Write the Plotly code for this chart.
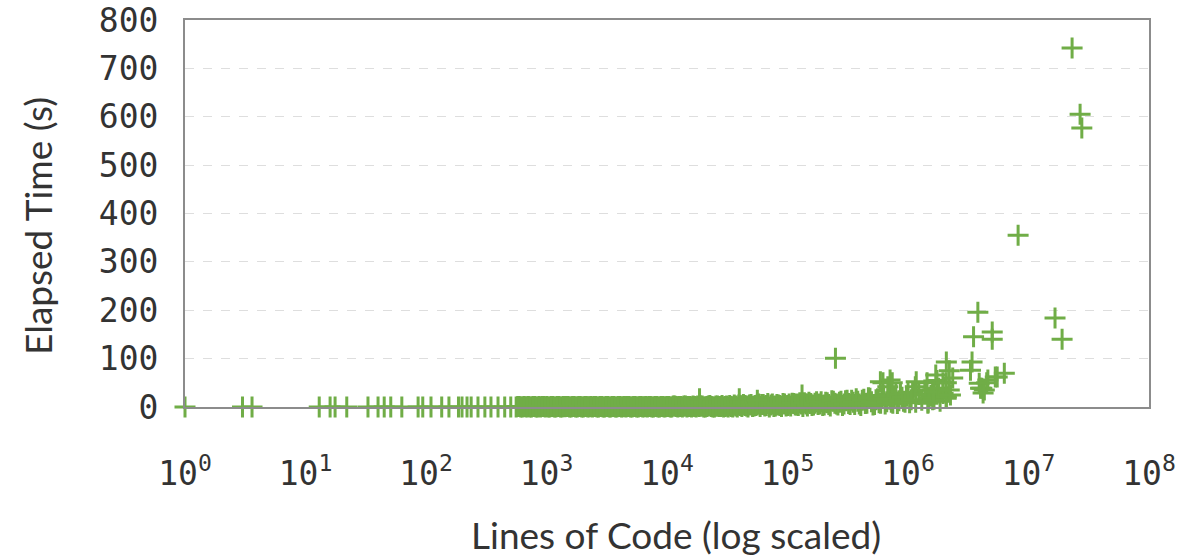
import plotly.graph_objects as go

# ---- data ----
# sparse small projects (all ~0 s)
small_loc = [1, 3, 3.6, 13, 16, 17.6, 22, 33, 40, 45, 51, 63,
             86, 94, 110, 135, 155, 186, 199, 219, 237, 270, 308, 346, 396, 450, 505]
small_time = [0] * len(small_loc)

# dense band of projects
band_loc = [560, 594, 630, 668, 708, 750, 795, 843, 893, 947,
            1004, 1064, 1128, 1196, 1268, 1344, 1424, 1510, 1600, 1696,
            1798, 1906, 2020, 2141, 2270, 2406, 2550, 2703, 2866, 3038,
            3220, 3413, 3618, 3835, 4065, 4309, 4567, 4841, 5132, 5440,
            5766, 6112, 6479, 6868, 7280, 7716, 8179, 8670, 9190, 9742,
            10330, 10950, 11600, 12300, 13040, 13820, 14650, 15530, 16460, 17450,
            18490, 19600, 20780, 22030, 23350, 24750, 26230, 27810, 29480, 31240,
            33120, 35110, 37210, 39450, 41810, 44320, 46980, 49800, 52790, 55950,
            59310, 62870, 66640, 70640, 74880, 79370, 84130, 89180, 94530, 100200,
            106200, 112600, 119300, 126500, 134100, 142100, 150700, 159700, 169300, 179400,
            190200, 201600, 213700, 226500, 240100, 254600, 269800, 286000, 303200, 321400,
            340600, 361100, 382800, 405700, 430100, 455900, 483200, 512200, 542900, 575500,
            610000, 646600, 685400, 726600, 770200, 816400, 865400, 917300, 972300, 1031000,
            1092000, 1158000, 1228000, 1301000, 1379000, 1462000, 1550000, 1643000, 1741000, 1846000,
            1956000, 2074000]
band_time = [0, 1, 0, 0.5, 1, 0, 1, 0, 0, 1,
             1, 0, 1, 0, 1, 0, 0.5, 1, 0, 1,
             0, 1, 0, 1, 0.5, 0, 1, 0, 1, 0,
             1, 0, 1, 0, 1, 0.5, 0, 1, 0, 1,
             0, 1, 0.5, 0, 1, 0, 1, 0, 1, 0.5,
             1, 0, 2, 0, 1, 2, 0, 1, 2, 0,
             1, 2, 0, 2, 1, 0, 2, 1, 0, 2,
             3, 0, 2, 4, 1, 3, 0, 5, 2, 4,
             1, 5, 3, 0, 6, 2, 4, 1, 6, 3,
             2, 7, 4, 9, 1, 6, 10, 3, 8, 5,
             11, 4, 9, 2, 12, 6, 10, 3, 13, 7,
             14, 5, 12, 3, 16, 8, 18, 4, 15, 9,
             20, 6, 24, 10, 18, 7, 28, 12, 22, 9,
             30, 10, 26, 14, 35, 8, 24, 16, 32, 12,
             28, 18]

band2_loc = [577, 612, 649, 688, 729, 772, 819, 868, 920, 975,
             1034, 1096, 1161, 1231, 1305, 1383, 1466, 1554, 1647, 1746,
             1851, 1962, 2080, 2204, 2337, 2477, 2625, 2783, 2950, 3127,
             3315, 3514, 3725, 3948, 4185, 4436, 4702, 4984, 5284, 5601,
             5937, 6293, 6670, 7071, 7495, 7944, 8421, 8926, 9462, 10030,
             10640, 11270, 11950, 12660, 13420, 14230, 15080, 15990, 16950, 17960,
             19040, 20180, 21390, 22680, 24040, 25480, 27010, 28630, 30350, 32170,
             34100, 36150, 38310, 40620, 43050, 45630, 48370, 51270, 54350, 57610,
             61070, 64730, 68610, 72730, 77100, 81720, 86620, 91820, 97330, 103200,
             109400, 115900, 122900, 130200, 138100, 146300, 155100, 164400, 174300, 184700,
             195800, 207600, 220000, 233200, 247200, 262000, 277800, 294500, 312200, 330900,
             350700, 371800, 394100, 417700, 442800, 469400, 497500, 527400, 559000, 592600,
             628100, 665800, 705800, 748200, 793000, 840600, 891100, 944600, 1001000, 1062000]
band2_time = [1, 0, 1, 0, 0, 1, 0, 1, 1, 0,
              0, 1, 0, 1, 0, 1, 1, 0, 1, 0,
              1, 0, 1, 0, 1, 1, 0, 1, 0, 1,
              0, 1, 0, 1, 0, 1, 1, 0, 1, 0,
              1, 0, 1, 1, 0, 1, 0, 1, 0, 1,
              0, 2, 1, 1, 0, 2, 1, 0, 1, 2,
              2, 0, 1, 3, 0, 2, 1, 3, 1, 0,
              1, 4, 0, 3, 5, 2, 4, 1, 3, 6,
              5, 2, 7, 4, 1, 5, 3, 7, 2, 6,
              8, 4, 3, 6, 9, 2, 7, 4, 11, 6,
              3, 10, 5, 13, 8, 4, 12, 6, 14, 5,
              10, 17, 6, 14, 7, 19, 11, 5, 17, 8,
              23, 11, 16, 8, 27, 13, 20, 10, 30, 15]

# individual notable projects
big_loc = [18620, 39800, 56200, 132000, 250000,
           590000, 620000, 680000, 710000, 740000, 1150000, 1170000, 1440000, 1470000,
           1500000, 1600000, 1600000, 1650000, 1700000, 1740000, 1800000, 1950000,
           2080000, 2080000, 2080000, 2200000, 2200000, 2250000, 2350000,
           3300000, 3400000, 3500000, 3800000, 3900000, 4000000, 4100000, 4200000,
           4300000, 4500000, 4600000, 5000000, 5000000, 5300000, 5500000, 6300000, 8200000,
           16600000, 19000000, 23000000, 26800000, 27700000]
big_time = [17, 17, 14, 25, 101,
            52, 50, 42, 56, 50, 42, 52, 50, 10,
            19, 15, 35, 31, 66, 55, 39, 50,
            21, 50, 93, 75, 35, 25, 60,
            76, 93, 145, 196, 49, 39, 39, 29,
            35, 50, 56, 155, 140, 62, 62, 70, 355,
            184, 140, 742, 605, 577]

x_tick_vals = [1, 10, 100, 1000, 10000, 100000, 1000000, 10000000, 100000000]
x_tick_text = ["10<sup>0</sup>", "10<sup>1</sup>", "10<sup>2</sup>", "10<sup>3</sup>",
               "10<sup>4</sup>", "10<sup>5</sup>", "10<sup>6</sup>", "10<sup>7</sup>",
               "10<sup>8</sup>"]
y_tick_vals = [0, 100, 200, 300, 400, 500, 600, 700, 800]

GREEN = "#70AD47"

fig = go.Figure()
for xs, ys in [(small_loc, small_time), (band_loc, band_time),
               (band2_loc, band2_time), (big_loc, big_time)]:
    fig.add_trace(go.Scatter(
        x=xs, y=ys, mode="markers", cliponaxis=False, showlegend=False,
        hoverinfo="skip",
        marker=dict(symbol="cross-thin", size=15, color=GREEN,
                    line=dict(color=GREEN, width=3)),
    ))

tick_font = dict(family="DejaVu Sans Mono", size=33, color="#333333")
title_font = dict(family="Lato", size=37, color="#333333")

fig.update_layout(
    width=1188, height=556,
    margin=dict(l=185, r=39, t=20, b=149),
    paper_bgcolor="white", plot_bgcolor="white",
    xaxis=dict(type="log", range=[0, 8], tickvals=x_tick_vals, ticktext=x_tick_text,
               tickfont=tick_font, showgrid=False, zeroline=False, automargin=False,
               showline=True, mirror=True, linecolor="#8c8c8c", linewidth=2,
               ticks="", ticklabelstandoff=36),
    yaxis=dict(range=[0, 800], tickvals=y_tick_vals, tickfont=tick_font, automargin=False,
               showgrid=True, gridcolor="#dedede", griddash="dash", gridwidth=1,
               zeroline=False, showline=True, mirror=True, linecolor="#8c8c8c",
               linewidth=2, ticks="", ticklabelstandoff=18),
    annotations=[
        dict(text="Lines of Code (log scaled)", xref="paper", yref="paper",
             x=(676 - 185) / 964, y=(407 - 534) / 387, xanchor="center", yanchor="middle",
             showarrow=False, font=title_font),
        dict(text="Elapsed Time (s)", xref="paper", yref="paper",
             x=(37 - 185) / 964, y=(407 - 226) / 387, xanchor="center", yanchor="middle",
             textangle=-90, showarrow=False, font=title_font),
    ],
)

fig.write_html("out.html", config={"displayModeBar": False},
               post_script="document.body.style.margin='0';")
